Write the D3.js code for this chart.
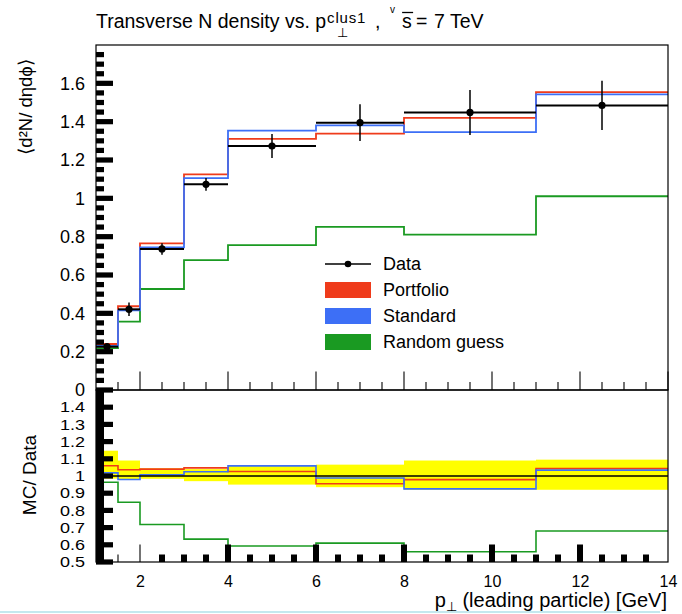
<!DOCTYPE html>
<html>
<head>
<meta charset="utf-8">
<script src="https://cdn.jsdelivr.net/npm/d3@7"></script>
<style>
  body { margin: 0; background: #fff; }
  svg { display: block; font-family: "Liberation Sans", Arial, sans-serif; }
</style>
</head>
<body>
<div id="chart"></div>
<script>
// bins in p_T (GeV)
const binEdges = [1, 1.5, 2, 3, 4, 6, 8, 11, 14];

// upper panel: <d2N/detadphi>
const dataValues = [0.226, 0.421, 0.736, 1.073, 1.273, 1.395, 1.448, 1.485];
const dataErrors = [0.015, 0.035, 0.03, 0.033, 0.063, 0.096, 0.117, 0.128];
const portfolioValues = [0.240, 0.437, 0.765, 1.125, 1.310, 1.338, 1.420, 1.554];
const standardValues = [0.230, 0.415, 0.744, 1.105, 1.353, 1.381, 1.345, 1.542];
const randomValues = [0.218, 0.357, 0.527, 0.678, 0.756, 0.851, 0.811, 1.011];

// lower panel: MC / Data
const portfolioRatio = [1.060, 1.036, 1.040, 1.047, 1.026, 0.955, 0.979, 1.044];
const standardRatio = [1.018, 0.980, 1.007, 1.025, 1.059, 0.988, 0.925, 1.034];
const randomRatio = [0.964, 0.847, 0.718, 0.633, 0.593, 0.610, 0.560, 0.680];
const bandLow = [0.985, 0.978, 0.984, 0.970, 0.950, 0.935, 0.920, 0.920];
const bandHigh = [1.147, 1.090, 1.045, 1.040, 1.060, 1.066, 1.090, 1.095];

// ticks
const xTicks = [2, 4, 6, 8, 10, 12, 14];
const topYTicks = [0, 0.2, 0.4, 0.6, 0.8, 1, 1.2, 1.4, 1.6];
const ratioYTicks = [0.5, 0.6, 0.7, 0.8, 0.9, 1, 1.1, 1.2, 1.3, 1.4];

const legendLabels = ['Data', 'Portfolio', 'Standard', 'Random guess'];
const colors = { Portfolio: '#ef3b1b', Standard: '#3d6ff6', 'Random guess': '#1a9a22' };

const width = 682, height = 614;
const left = 96, right = 668;
const fontFamily = '"Liberation Sans", Arial, sans-serif';

const svg = d3.select('#chart').append('svg')
  .attr('width', width)
  .attr('height', height);

svg.append('rect').attr('width', width).attr('height', height).attr('fill', '#fff');

const x = d3.scaleLinear().domain([1, 14]).range([left, right]);
const yTop = d3.scaleLinear().domain([0, 1.8]).range([390, 45]);
const yRatio = d3.scaleLinear().domain([0.5, 1.5]).range([562, 390]);

const bins = binEdges.slice(0, -1).map((lo, i) => ({ lo, hi: binEdges[i + 1], mid: (lo + binEdges[i + 1]) / 2 }));

function stepPoints(values) {
  const pts = values.map((v, i) => [binEdges[i], v]);
  pts.push([binEdges[binEdges.length - 1], values[values.length - 1]]);
  return pts;
}

function drawStep(g, values, y, color, w) {
  const line = d3.line()
    .x(d => x(d[0]))
    .y(d => y(d[1]))
    .curve(d3.curveStepAfter);
  g.append('path')
    .attr('d', line(stepPoints(values)))
    .attr('fill', 'none')
    .attr('stroke', color)
    .attr('stroke-width', w);
}

// ---------- upper panel ----------
const upper = svg.append('g');

drawStep(upper, randomValues, yTop, colors['Random guess'], 1.8);
drawStep(upper, portfolioValues, yTop, colors.Portfolio, 1.8);
drawStep(upper, standardValues, yTop, colors.Standard, 1.8);

// data points with error bars
const dataG = upper.append('g');
bins.forEach((b, i) => {
  dataG.append('line')
    .attr('x1', x(b.lo)).attr('x2', x(b.hi))
    .attr('y1', yTop(dataValues[i])).attr('y2', yTop(dataValues[i]))
    .attr('stroke', '#000').attr('stroke-width', 2);
  dataG.append('line')
    .attr('x1', x(b.mid)).attr('x2', x(b.mid))
    .attr('y1', yTop(dataValues[i] - dataErrors[i]))
    .attr('y2', yTop(dataValues[i] + dataErrors[i]))
    .attr('stroke', '#000').attr('stroke-width', 1.5);
  dataG.append('circle')
    .attr('cx', x(b.mid)).attr('cy', yTop(dataValues[i]))
    .attr('r', 3.6).attr('fill', '#000');
});

// frame
upper.append('rect')
  .attr('x', left).attr('y', 45)
  .attr('width', right - left).attr('height', 390 - 45)
  .attr('fill', 'none').attr('stroke', '#000').attr('stroke-width', 1.2);

// thick left ticks
d3.range(0, 1.76, 0.05).forEach(v => {
  const major = topYTicks.some(t => Math.abs(t - v) < 1e-6);
  upper.append('rect')
    .attr('x', left)
    .attr('y', yTop(v) - 2.6)
    .attr('width', major ? 17 : 8)
    .attr('height', 5.2)
    .attr('fill', '#000');
});

// thin bottom ticks (pointing up)
d3.range(1.5, 14.01, 0.5).forEach(v => {
  const major = xTicks.includes(v);
  upper.append('line')
    .attr('x1', x(v)).attr('x2', x(v))
    .attr('y1', 390).attr('y2', 390 - (major ? 18.5 : 8))
    .attr('stroke', '#000').attr('stroke-width', 1.1);
});

const yAxisTop = d3.axisLeft(yTop)
  .tickValues(topYTicks)
  .tickSize(0)
  .tickPadding(11)
  .tickFormat(d => String(d));
svg.append('g')
  .attr('transform', `translate(${left},0)`)
  .call(yAxisTop)
  .call(g => g.select('.domain').remove())
  .selectAll('text')
  .attr('font-size', 18)
  .attr('font-family', fontFamily)
  .attr('fill', '#000');

// legend
const legend = svg.append('g');
legendLabels.forEach((name, i) => {
  const ly = 264 + i * 26;
  if (name === 'Data') {
    legend.append('line')
      .attr('x1', 325).attr('x2', 371).attr('y1', ly).attr('y2', ly)
      .attr('stroke', '#000').attr('stroke-width', 1.5);
    legend.append('circle').attr('cx', 348).attr('cy', ly).attr('r', 3.3).attr('fill', '#000');
  } else {
    legend.append('rect')
      .attr('x', 325).attr('y', ly - 8)
      .attr('width', 46).attr('height', 16)
      .attr('fill', colors[name]);
  }
  legend.append('text')
    .attr('x', 383).attr('y', ly)
    .attr('dy', '0.36em')
    .attr('font-size', 18)
    .text(name);
});

// ---------- lower panel ----------
const lower = svg.append('g');

bins.forEach((b, i) => {
  lower.append('rect')
    .attr('x', x(b.lo))
    .attr('y', yRatio(bandHigh[i]))
    .attr('width', x(b.hi) - x(b.lo))
    .attr('height', yRatio(bandLow[i]) - yRatio(bandHigh[i]))
    .attr('fill', '#ffff00');
});

drawStep(lower, randomRatio, yRatio, colors['Random guess'], 1.6);
drawStep(lower, portfolioRatio, yRatio, colors.Portfolio, 1.6);
drawStep(lower, standardRatio, yRatio, colors.Standard, 1.6);

lower.append('line')
  .attr('x1', left).attr('x2', right)
  .attr('y1', yRatio(1)).attr('y2', yRatio(1))
  .attr('stroke', '#000').attr('stroke-width', 1.3);

lower.append('rect')
  .attr('x', left).attr('y', 390)
  .attr('width', right - left).attr('height', 562 - 390)
  .attr('fill', 'none').attr('stroke', '#000').attr('stroke-width', 1.2);

// left ticks (minor ones merge into a solid bar)
d3.range(0.5, 1.5, 0.02).forEach(v => {
  const major = ratioYTicks.some(t => Math.abs(t - v) < 1e-6);
  lower.append('rect')
    .attr('x', left)
    .attr('y', yRatio(v) - 2.6)
    .attr('width', major ? 17 : 8)
    .attr('height', 5.2)
    .attr('fill', '#000');
});

// bottom ticks: thin near the left, thick blocks after
d3.range(1.5, 13.51, 0.5).forEach(v => {
  const major = xTicks.includes(v);
  const h = major ? 17.5 : 7.5;
  if (v <= 2) {
    lower.append('line')
      .attr('x1', x(v)).attr('x2', x(v))
      .attr('y1', 562).attr('y2', 562 - h)
      .attr('stroke', '#000').attr('stroke-width', 1.1);
  } else {
    lower.append('rect')
      .attr('x', x(v) - 3).attr('y', 562 - h)
      .attr('width', 6).attr('height', h)
      .attr('fill', '#000');
  }
});

// ratio labels are squeezed vertically, as in the original pad
const yAxisRatio = d3.axisLeft(yRatio)
  .tickValues(ratioYTicks)
  .tickSize(0)
  .tickPadding(11)
  .tickFormat(d => String(d));
svg.append('g')
  .attr('transform', `translate(${left},0)`)
  .call(yAxisRatio)
  .call(g => g.select('.domain').remove())
  .selectAll('text')
  .attr('font-size', 18)
  .attr('font-family', fontFamily)
  .attr('fill', '#000')
  .attr('transform', 'scale(1,0.83)');

const xAxis = d3.axisBottom(x)
  .tickValues(xTicks)
  .tickSize(0)
  .tickPadding(13.5)
  .tickFormat(d => String(d));
svg.append('g')
  .attr('transform', 'translate(0,562)')
  .call(xAxis)
  .call(g => g.select('.domain').remove())
  .selectAll('text')
  .attr('font-size', 16)
  .attr('font-family', fontFamily)
  .attr('fill', '#000');

// ---------- titles ----------
const titleMain = svg.append('text')
  .attr('x', 96).attr('y', 28)
  .attr('font-size', 19.5)
  .text('Transverse N density vs. p');
const pEnd = 96 + titleMain.node().getComputedTextLength();

svg.append('text')
  .attr('x', pEnd + 1).attr('y', 23)
  .attr('font-size', 15)
  .attr('letter-spacing', 0.8)
  .text('clus1');
svg.append('text')
  .attr('x', pEnd + 11).attr('y', 37)
  .attr('font-size', 13)
  .text('\u22A5');
svg.append('text').attr('x', pEnd + 49).attr('y', 28).attr('font-size', 19.5).text(',');

svg.append('text').attr('x', pEnd + 64).attr('y', 13).attr('font-size', 10).text('v');
svg.append('text').attr('x', pEnd + 76).attr('y', 28).attr('font-size', 19.5).text('s');
svg.append('line')
  .attr('x1', pEnd + 76).attr('x2', pEnd + 87).attr('y1', 12.5).attr('y2', 12.5)
  .attr('stroke', '#000').attr('stroke-width', 1.3);
svg.append('text').attr('x', pEnd + 90).attr('y', 28).attr('font-size', 19.5).text('=');
svg.append('text').attr('x', pEnd + 108).attr('y', 28).attr('font-size', 19.5).text('7 TeV');

svg.append('text')
  .attr('transform', 'translate(32,107) rotate(-90)')
  .attr('text-anchor', 'middle')
  .attr('font-size', 18.5)
  .text('\u27E8d\u00B2N/ d\u03B7d\u03D5\u27E9');

svg.append('text')
  .attr('transform', 'translate(36,475) rotate(-90)')
  .attr('text-anchor', 'middle')
  .attr('font-size', 19)
  .text('MC/ Data');

const xTitle = svg.append('text')
  .attr('x', 667).attr('y', 607)
  .attr('text-anchor', 'end')
  .attr('font-size', 20);
xTitle.append('tspan').text('p');
xTitle.append('tspan').attr('font-size', 13).attr('dy', 4).text('\u22A5');
xTitle.append('tspan').attr('dy', -4).text('  (leading particle) [GeV]');

// faint line at the bottom edge
svg.append('rect')
  .attr('x', 0).attr('y', 611)
  .attr('width', 660).attr('height', 2)
  .attr('fill', '#c4e8ee');
</script>
</body>
</html>
